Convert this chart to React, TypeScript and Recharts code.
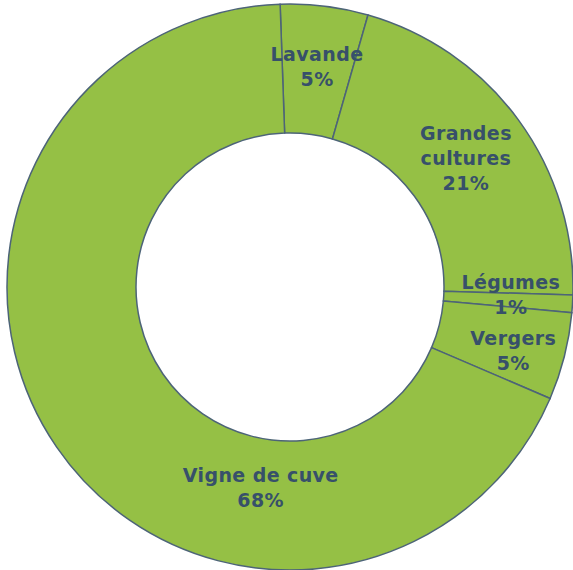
import { PieChart, Pie, Cell } from "recharts"

const categories = ["Lavande", "Grandes cultures", "Légumes", "Vergers", "Vigne de cuve"]
const shares = [5, 21, 1, 5, 68]

const data = categories.map((name, i) => ({ name, value: shares[i] }))

// label placement tweaks (Excel labels were nudged by hand)
const labelTweak: Record<string, { shift: number; r: number; wrap?: boolean }> = {
    "Lavande": { shift: 0, r: 222 },
    "Grandes cultures": { shift: 0, r: 218, wrap: true },
    "Légumes": { shift: 1.4, r: 221 },
    "Vergers": { shift: -1.6, r: 232 },
    "Vigne de cuve": { shift: 47.3, r: 203 },
}

const RAD = Math.PI / 180
const LINE_H = 25

function renderLabel(props: any) {
    const { cx, cy, midAngle, name, value } = props
    const t = labelTweak[name] || { shift: 0, r: 218 }
    const a = midAngle + t.shift
    const x = cx + t.r * Math.cos(-a * RAD)
    const y = cy + t.r * Math.sin(-a * RAD)
    const lines = t.wrap ? [...name.split(" "), `${value}%`] : [name, `${value}%`]
    const first = -((lines.length - 1) / 2) * LINE_H
    return (
        <text
            x={x}
            y={y}
            textAnchor="middle"
            fill="#37506a"
            fontFamily="DejaVu Sans, Verdana, sans-serif"
            fontWeight="bold"
            fontSize={19}
            letterSpacing={0.4}
        >
            {lines.map((l, i) => (
                <tspan key={i} x={x} y={y + first + i * LINE_H} dominantBaseline="central">
                    {l}
                </tspan>
            ))}
        </text>
    )
}

export default function App() {
    return (
        <div style={{ position: "absolute", left: 0, top: 0, width: 573, height: 570, background: "#fff" }}>
            <PieChart width={573} height={570} margin={{ top: 0, right: 0, bottom: 0, left: 0 }}>
                <Pie
                    data={data}
                    dataKey="value"
                    nameKey="name"
                    cx={290}
                    cy={287}
                    outerRadius={283}
                    innerRadius={154}
                    startAngle={92}
                    endAngle={-268}
                    stroke="#4d6478"
                    strokeWidth={1.5}
                    labelLine={false}
                    label={renderLabel}
                    isAnimationActive={false}
                >
                    {data.map((d) => (
                        <Cell key={d.name} fill="#95c045" />
                    ))}
                </Pie>
            </PieChart>
        </div>
    )
}
